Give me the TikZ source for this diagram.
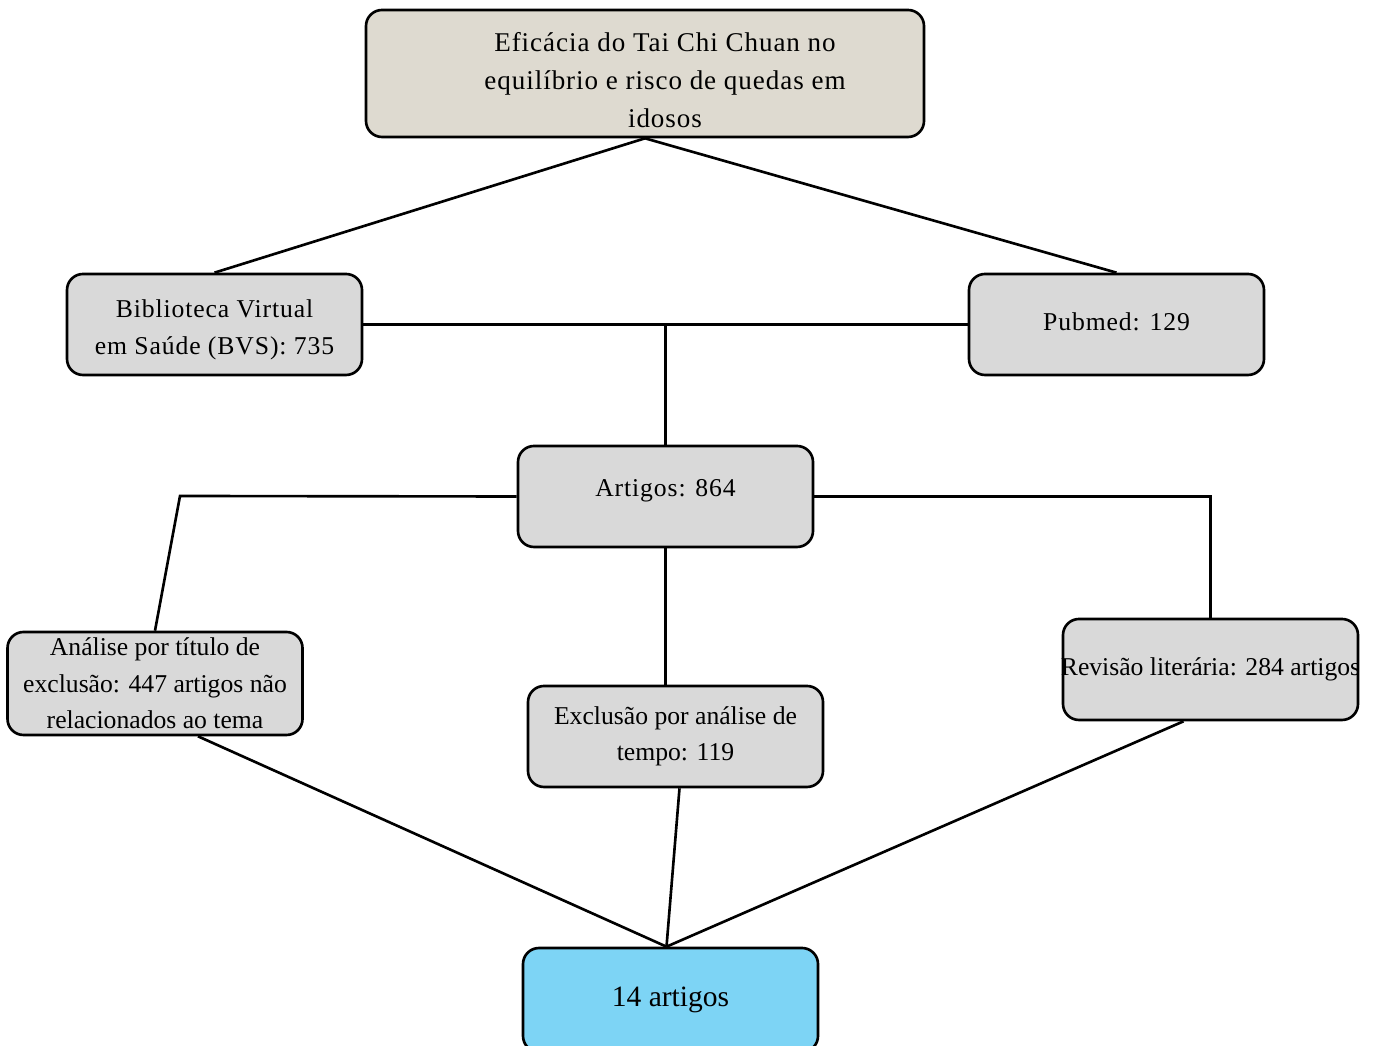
\documentclass[tikz,border=0pt]{standalone}
\usepackage{fontspec}
\setmainfont{Liberation Serif}
\newfontfamily\spaced[LetterSpace=3.5]{Liberation Serif}
\usepackage{tikz}
\usetikzlibrary{positioning}

\definecolor{topfill}{HTML}{DEDAD0}
\definecolor{boxfill}{HTML}{D9D9D9}
\definecolor{finfill}{HTML}{7DD4F5}

\tikzset{
  box/.style={draw=black, line width=0.75pt, rounded corners=1.6mm, fill=boxfill,
    minimum width=2.95cm, minimum height=1.01cm, inner sep=0pt, align=center,
    font=\fontsize{7.3}{10.4}\selectfont},
  wide/.style={box, font=\spaced\fontsize{7.3}{10.6}\selectfont},
  link/.style={draw=black, line width=0.75pt}
}

\begin{document}
\begin{tikzpicture}
  \useasboundingbox (0,0) rectangle (13.77,-10.46);
  \node (tema) [wide, fill=topfill, minimum width=5.58cm, minimum height=1.27cm,
    font=\spaced\fontsize{7.7}{10.8}\selectfont] at (6.45,-0.735)
    {\rule{0pt}{9.2pt}\hspace*{4mm}Eficácia do Tai Chi Chuan no\\\hspace*{4mm}equilíbrio e risco de quedas em\\\hspace*{4mm}idosos};
  \node (bvs) [wide] at (2.145,-3.245) {\rule{0pt}{8.3pt}Biblioteca Virtual\\em Saúde (BVS): 735};
  \node (pubmed) [wide] at (11.165,-3.245) {\rule[-1.6pt]{0pt}{1pt}Pubmed: 129};
  \node (artigos) [wide] at (6.655,-4.965) {\rule[-4.6pt]{0pt}{1pt}Artigos: 864};
  \node (titulo) [box, minimum height=1.03cm] at (1.55,-6.835)
    {Análise por título de\\exclusão: 447 artigos não\\relacionados ao tema};
  \node (tempo) [box] at (6.755,-7.365) {Exclusão por análise de\\tempo: 119};
  \node (revisao) [box] at (12.105,-6.695) {\makebox[2.6cm]{Revisão literária: 284 artigos}};
  \node (final) [box, fill=finfill, minimum height=1.04cm,
    font=\fontsize{8.4}{10}\selectfont] at (6.705,-10.0) {14 artigos};

  \coordinate (esq) at (1.80,-4.96);

  \path[link]
  (tema.south) edge (bvs.north)
  (tema.south) edge (pubmed.north)
  (bvs.east) edge (pubmed.west)
  (bvs.east -| artigos.north) edge (artigos.north)
  (artigos.south) edge (artigos.south |- tempo.north);
  \draw[link] (artigos.west) -- (esq) -- (titulo.north);
  \draw[link] (artigos.east) -| (revisao.north);
  \path[link]
  ([xshift=4.3mm]titulo.south) edge ([xshift=-0.4mm]final.north)
  ([xshift=0.4mm]tempo.south) edge ([xshift=-0.4mm]final.north)
  ([xshift=-2.7mm]revisao.south) edge ([xshift=-0.4mm]final.north);
\end{tikzpicture}
\end{document}
